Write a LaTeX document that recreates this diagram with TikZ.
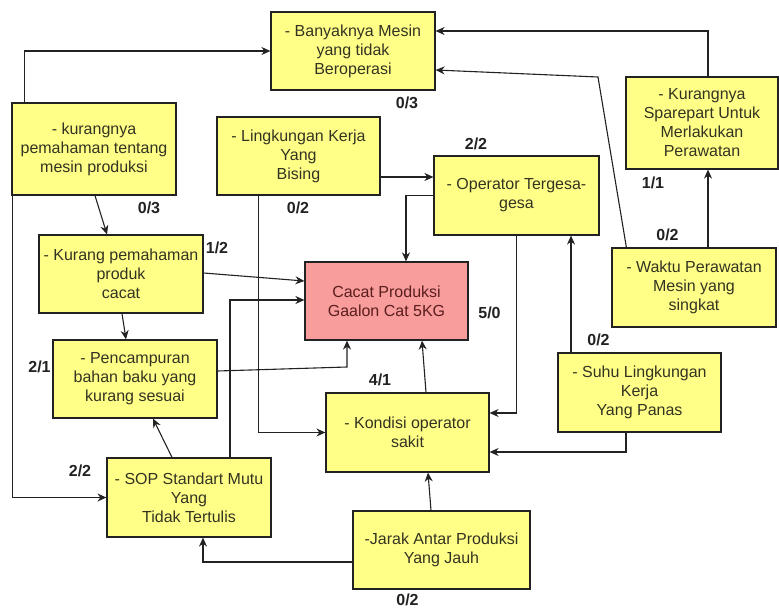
\documentclass[tikz,border=0pt]{standalone}
\usepackage{fontspec}
\setmainfont{Liberation Sans}
\usetikzlibrary{arrows.meta,calc}
\definecolor{boxyellow}{HTML}{FFFF88}
\definecolor{boxred}{HTML}{F89C9C}
\definecolor{edge}{HTML}{222222}
\definecolor{txt}{HTML}{333322}
\definecolor{redtxt}{HTML}{5A1E1E}
\tikzset{
  ybox/.style={draw=edge, line width=1.2pt, fill=boxyellow, text=txt, align=center,
    inner sep=0pt, font=\fontsize{16}{19}\selectfont},
  rbox/.style={draw=edge, line width=1.2pt, fill=boxred, text=redtxt, align=center,
    inner sep=0pt, font=\fontsize{16}{19}\selectfont},
  lab/.style={font=\fontsize{16}{19}\selectfont\bfseries, text=edge, inner sep=0pt},
  arr/.style={draw=edge, line width=1.1pt, -{Stealth[length=9pt,width=8pt]}},
}
\begin{document}
\begin{tikzpicture}[x=1pt,y=-1pt]
\useasboundingbox (0,0) rectangle (779,608);
% boxes
\node[ybox, minimum width=164, minimum height=78] (B) at (353,51) {- Banyaknya Mesin\\yang tidak\\Beroperasi};
\node[ybox, minimum width=164, minimum height=92] (K) at (94,149) {- kurangnya\\pemahaman tentang\\mesin produksi};
\node[ybox, minimum width=163, minimum height=78] (L) at (298.5,156) {- Lingkungan Kerja\\Yang\\Bising};
\node[ybox, minimum width=165, minimum height=79] (O) at (516.5,195.5) {- Operator Tergesa-\\gesa};
\node[ybox, minimum width=152, minimum height=92] (S) at (702,123) {- Kurangnya\\Sparepart Untuk\\Merlakukan\\Perawatan};
\node[ybox, minimum width=164, minimum height=79] (W) at (694,287.5) {- Waktu Perawatan\\Mesin yang\\singkat};
\node[ybox, minimum width=164, minimum height=78] (KP) at (121,274) {- Kurang pemahaman\\produk\\cacat};
\node[rbox, minimum width=163, minimum height=78] (C) at (386.5,301) {Cacat Produksi\\Gaalon Cat 5KG};
\node[ybox, minimum width=164, minimum height=78] (P) at (135,379) {- Pencampuran\\bahan baku yang\\kurang sesuai};
\node[ybox, minimum width=163, minimum height=79] (KO) at (407.5,432.5) {- Kondisi operator\\sakit};
\node[ybox, minimum width=163, minimum height=79] (SU) at (639.5,392.5) {- Suhu Lingkungan\\Kerja\\Yang Panas};
\node[ybox, minimum width=164, minimum height=79] (SOP) at (189,497.5) {- SOP Standart Mutu\\Yang\\Tidak Tertulis};
\node[ybox, minimum width=177, minimum height=78] (J) at (441.5,550) {-Jarak Antar Produksi\\Yang Jauh};
% labels
\node[lab] (l1) at (407,102.5) {0/3};
\node[lab] (l2) at (149,208) {0/3};
\node[lab] (l3) at (298,208) {0/2};
\node[lab] (l4) at (476,143.5) {2/2};
\node[lab] (l5) at (653,183) {1/1};
\node[lab] (l6) at (667.5,235) {0/2};
\node[lab] (l7) at (217,247.5) {1/2};
\node[lab] (l8) at (489.5,313) {5/0};
\node[lab] (l9) at (380,379.5) {4/1};
\node[lab] (l10) at (39.5,366.5) {2/1};
\node[lab] (l11) at (598.5,340) {0/2};
\node[lab] (l12) at (80,471) {2/2};
\node[lab] (l13) at (407.5,599.5) {0/2};
% bend coordinates
\coordinate (cW) at (598,77);
\coordinate (cP) at (347,367);
% connectors
\draw[arr] ([xshift=13]K.north west) |- (B.west);
\draw[arr] ([xshift=6]S.north) |- ([yshift=20]B.east);
\draw[arr] ([xshift=15]W.north west) -- (cW) -- ([yshift=-19]B.east);
\draw[arr] ([xshift=14]W.north) -- ([xshift=14]W.north |- S.south);
\draw[arr] ([xshift=1]K.south) -- ([xshift=-14]KP.north);
\draw[arr] ([xshift=1]K.south west) |- (SOP.west);
\draw[arr] ([xshift=-40]L.south) |- (KO.west);
\draw[arr] ([yshift=-21]L.east) -- ([yshift=-21]L.east -| O.west);
\draw[arr] (O.west) -| ([xshift=19.5]C.north);
\draw[arr] (O.south) |- ([yshift=19.5]KO.east);
\draw[arr] ([xshift=-68.5]SU.north) -- ([xshift=-68.5]SU.north |- O.south);
\draw[arr] ([xshift=-13.5]SU.south) |- ([yshift=-19.5]KO.east);
\draw[arr] ([yshift=1]KP.east) -- ([yshift=20]C.west);
\draw[arr] ([xshift=41]SOP.north) |- ([yshift=1]C.west);
\draw[arr] ([yshift=8]P.east) -- (cP) -- (cP |- C.south);
\draw[arr] ([xshift=1]KP.south) -- ([xshift=-9]P.north);
\draw[arr] ([xshift=-17]SOP.north) -- ([xshift=18]P.south);
\draw[arr] ([xshift=18.5]KO.north) -- ([xshift=35.5]C.south);
\draw[arr] ([xshift=-10.5]J.north) -- ([xshift=20.5]KO.south);
\draw[arr] ([yshift=-12]J.west) -| ([xshift=14]SOP.south);
\end{tikzpicture}
\end{document}
